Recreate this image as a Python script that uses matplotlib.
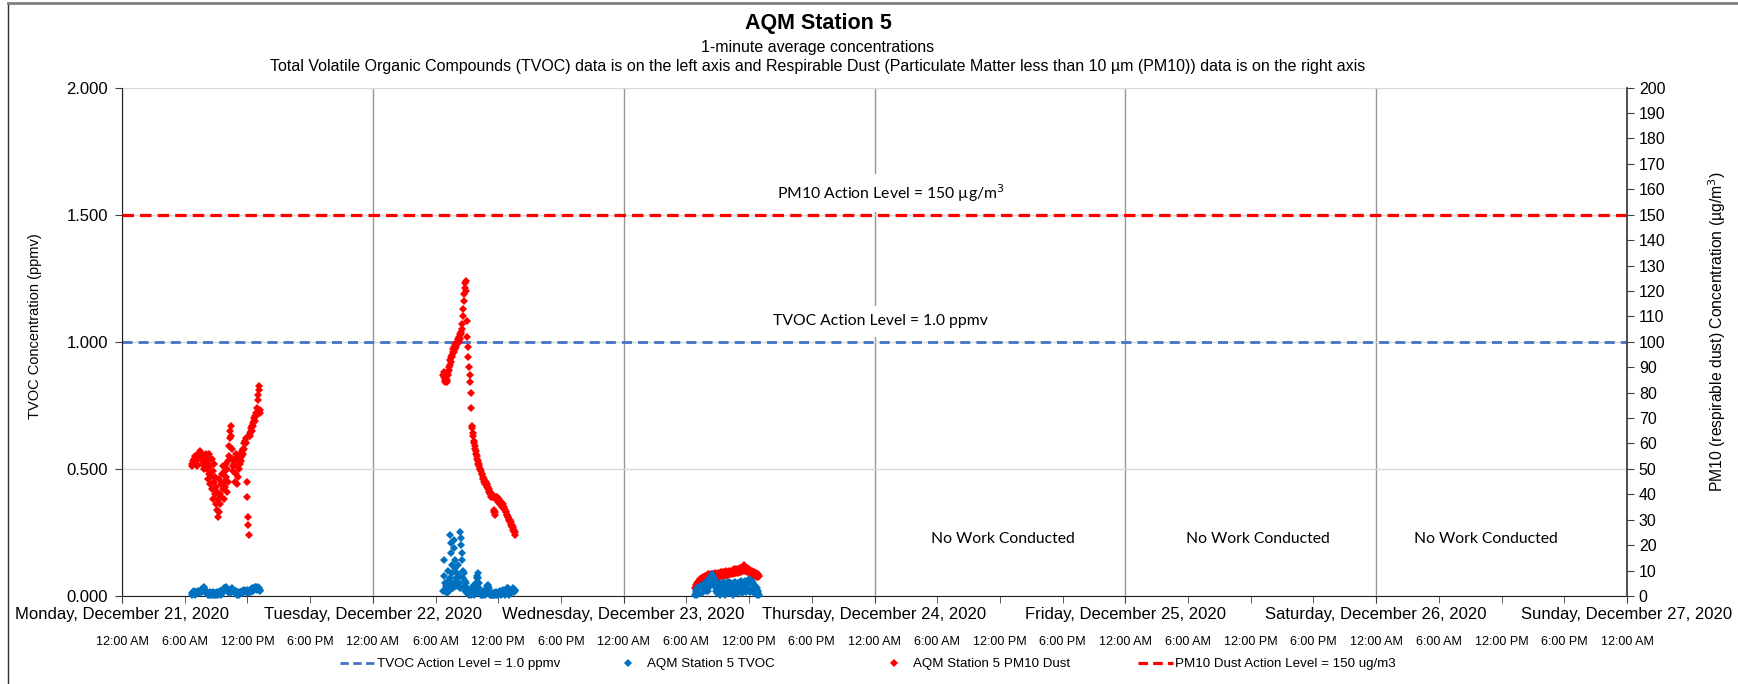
import numpy as np
import matplotlib
matplotlib.use('Agg')
import matplotlib.pyplot as plt
import matplotlib.dates as mdates
from matplotlib.lines import Line2D
from matplotlib.ticker import FuncFormatter
from datetime import datetime, timedelta

plt.rcParams['font.family'] = ['Liberation Sans', 'DejaVu Sans']

# readings sampled every 3 minutes from the logger
step_min = 3

day1_start = datetime(2020, 12, 21, 6, 40)
day1_pm10 = [52, 51, 53, 52, 54, 53, 55, 54, 52, 53, 51, 52, 54,
             56, 55, 57, 56, 55, 54, 55, 56, 54, 52,
             51, 50, 52, 54, 55, 56,
             55, 50, 46, 53, 48, 56, 44, 51, 47, 54,
             42, 49, 38, 45, 52, 40, 47, 36, 43,
             34, 41, 31, 38, 46, 33, 40, 36,
             44, 39, 48, 42, 51, 45, 38, 49, 43,
             47, 52, 41, 50, 45, 53,
             55, 59, 62, 65, 67,
             63, 58, 54, 51, 49,
             52, 45, 54, 48, 56, 44, 51, 55, 47, 53,
             50, 54, 52, 56, 53, 57, 55, 58, 56, 60,
             58, 61, 60, 62,
             45, 39, 31, 28, 24,
             63, 64, 63, 65, 66, 65, 67, 68, 67, 69,
             70, 69, 71, 72, 71,
             74, 77, 79, 81, 82.5,
             73, 72]
day1_tvoc = [0.005, 0.01, 0.015, 0.01, 0.02, 0.015, 0.01, 0.005, 0.01, 0.015, 0.01,
             0.015, 0.02, 0.015, 0.01, 0.015, 0.02, 0.025, 0.02, 0.015, 0.02,
             0.025, 0.03, 0.035, 0.03, 0.025, 0.02, 0.015, 0.01, 0.015, 0.01,
             0.005, 0.01, 0.005, 0.01, 0.015, 0.01, 0.005, 0.01, 0.005, 0.01, 0.015, 0.01, 0.005, 0.01, 0.005,
             0.01, 0.005, 0.01, 0.015, 0.01, 0.005, 0.01, 0.015, 0.02, 0.015, 0.01, 0.005, 0.01, 0.015, 0.02,
             0.025, 0.03, 0.025, 0.03, 0.035, 0.03, 0.025, 0.02, 0.015, 0.02, 0.025, 0.02, 0.015, 0.01, 0.015,
             0.02, 0.025, 0.03, 0.025, 0.02, 0.015, 0.01, 0.015, 0.02, 0.015, 0.01, 0.005, 0.01, 0.015, 0.01,
             0.005, 0.01, 0.015, 0.01, 0.015, 0.02, 0.015, 0.01, 0.015, 0.02, 0.025, 0.02, 0.015, 0.02, 0.025,
             0.02, 0.015, 0.01, 0.015, 0.02, 0.025, 0.02, 0.015, 0.02, 0.025, 0.03, 0.025, 0.02, 0.025, 0.03,
             0.035, 0.03, 0.035, 0.03, 0.025, 0.03, 0.035, 0.03, 0.025, 0.02, 0.025]

day2_start = datetime(2020, 12, 22, 6, 45)
day2_pm10 = [87, 86, 88, 85, 84, 86, 85, 84, 87, 88, 89,
             90, 91, 93, 92, 94, 95, 94, 96, 97, 96, 98, 97, 99, 98, 99,
             100, 99, 101, 100, 102, 101, 103, 104, 103, 105,
             107, 110, 113, 116, 119, 121, 123, 124, 120,
             108, 102, 98, 94, 90, 87, 84,
             80, 74,
             67, 66, 64, 63, 61, 60, 59,
             58, 57, 56, 55, 54, 53, 52, 52, 51, 50,
             50, 49, 48, 48, 47, 46, 46, 45, 45, 44,
             45, 44, 44, 43, 43, 42, 42, 41, 41, 40, 40, 39, 40, 39, 39,
             34, 33, 32, 33,
             39, 38, 39, 38, 38, 37, 38, 37, 37, 36, 37, 36, 36, 35, 36, 35,
             35, 34, 34, 33, 33, 32, 32, 31, 31, 30, 30, 30, 29, 29, 28,
             28, 27, 27, 26, 26, 25, 25, 24]
day2_tvoc = [0.02, 0.08, 0.14, 0.05, 0.02, 0.04, 0.01,
             0.03, 0.06, 0.10, 0.04, 0.02, 0.07,
             0.24, 0.21, 0.17, 0.12, 0.09, 0.05, 0.03,
             0.22, 0.19, 0.14, 0.11, 0.07, 0.04,
             0.09, 0.06, 0.12, 0.05, 0.08, 0.03,
             0.25, 0.23, 0.20, 0.17, 0.14, 0.10,
             0.07, 0.04, 0.09, 0.02, 0.06, 0.03, 0.05, 0.01,
             0.03, 0.01, 0.02, 0.005, 0.015, 0.01, 0.02, 0.005, 0.01, 0.02,
             0.04, 0.02, 0.01, 0.005, 0.01, 0.02, 0.03, 0.05, 0.07, 0.08,
             0.09, 0.07, 0.05, 0.03, 0.015, 0.01,
             0.005, 0.01, 0.005, 0.01, 0.005, 0.01, 0.02, 0.01, 0.005, 0.01, 0.02, 0.03, 0.04, 0.045,
             0.04, 0.03, 0.02, 0.01, 0.005,
             0.005, 0.01, 0.005, 0.01, 0.005, 0.01, 0.005, 0.005, 0.01, 0.015, 0.01, 0.005, 0.01, 0.005, 0.01,
             0.01, 0.015, 0.02, 0.01, 0.005, 0.01, 0.015, 0.02, 0.025, 0.02, 0.01, 0.005, 0.01, 0.015, 0.02,
             0.025, 0.03, 0.03, 0.02, 0.01, 0.005, 0.01, 0.02, 0.025, 0.02,
             0.015, 0.02, 0.03, 0.025, 0.02, 0.015, 0.02, 0.025]

day3_start = datetime(2020, 12, 23, 6, 50)
day3_pm10 = [3, 4.5, 3.5, 5, 4, 5.5, 4.5, 6, 5, 6.5, 5.5,
             6.5, 5.5, 7, 6, 7.5, 6, 7, 6.5, 8, 6.5, 7.5, 6.5, 8, 7, 8.5, 7, 8, 7, 8.5, 7.5,
             8, 7, 8.5, 7.5, 8.5, 7, 8, 7.5, 9, 7.5, 8.5, 7.5, 9, 8, 8.5,
             7.5, 9, 8, 9.5, 8, 9, 8, 9.5, 8.5, 9, 8, 9.5, 8.5, 10, 8.5,
             9, 8, 9.5, 8.5, 10, 8.5, 9.5, 8.5, 10, 9, 9.5, 8.5, 10, 9, 10.5,
             9, 10, 9, 10.5, 9.5, 10, 9, 10.5, 9.5, 11, 9.5, 10.5, 9.5, 11, 10,
             10.5, 11.5, 10, 12, 10.5, 11.5, 10, 11, 9.5, 11,
             10, 10.5, 9.5, 10.5, 9, 10, 9.5, 10, 9, 9.5,
             8.5, 9.5, 8, 9, 8.5, 9, 8, 8.5, 7.5, 8.5, 7.5, 8]
day3_tvoc = [0.005, 0.02, 0.01, 0.03, 0.005, 0.025, 0.015, 0.035, 0.01, 0.03, 0.02,
             0.04, 0.01, 0.035, 0.02, 0.045, 0.015, 0.04, 0.025, 0.05, 0.02,
             0.055, 0.03, 0.05, 0.02, 0.06, 0.035, 0.065, 0.04, 0.07, 0.05,
             0.075, 0.06, 0.085, 0.065, 0.08, 0.05, 0.07, 0.035, 0.055, 0.02,
             0.045, 0.01, 0.04, 0.02, 0.05, 0.015, 0.045, 0.005, 0.04, 0.02,
             0.05, 0.01, 0.045, 0.025, 0.055, 0.015, 0.04, 0.005, 0.035, 0.02,
             0.05, 0.01, 0.045, 0.02, 0.055, 0.01, 0.04, 0.025, 0.05, 0.015,
             0.045, 0.005, 0.04, 0.02, 0.05, 0.01, 0.055, 0.02, 0.045, 0.01,
             0.04, 0.02, 0.05, 0.015, 0.055, 0.025, 0.06, 0.02, 0.05, 0.01,
             0.045, 0.02, 0.055, 0.03, 0.06, 0.02, 0.05, 0.015, 0.055, 0.025,
             0.06, 0.03, 0.065, 0.02, 0.055, 0.015, 0.05, 0.025, 0.06, 0.02,
             0.05, 0.01, 0.045, 0.02, 0.04, 0.01, 0.035, 0.005, 0.03, 0.01, 0.02, 0.005]

tvoc_action = 1.0
pm10_action = 150

day_names = ['Monday', 'Tuesday', 'Wednesday', 'Thursday', 'Friday', 'Saturday', 'Sunday']
no_work_days = [datetime(2020, 12, 24, 12, 18), datetime(2020, 12, 25, 12, 42), datetime(2020, 12, 26, 10, 32)]


def stamps(start, n):
    return [start + timedelta(minutes=step_min * i) for i in range(n)]


days = [(day1_start, day1_pm10, day1_tvoc), (day2_start, day2_pm10, day2_tvoc), (day3_start, day3_pm10, day3_tvoc)]
t_all, pm_all, tv_all = [], [], []
for start, pm, tv in days:
    t_all += stamps(start, len(pm))
    pm_all += pm
    tv_all += tv

W, H = 1738, 684
fig = plt.figure(figsize=(W / 100, H / 100), dpi=100)
rect = [122 / W, 1 - 596 / H, (1627 - 122) / W, (596 - 87.6) / H]
ax = fig.add_axes(rect)
ax2 = ax.twinx()
ax3 = fig.add_axes(rect, sharex=ax, sharey=ax)
ax3.axis('off')
ax3.patch.set_visible(False)

blue = '#0070C0'
red = '#FF0000'

ax.axhline(tvoc_action, color='#4472C4', lw=2, ls=(0, (3.6, 2.2)), zorder=2)
ax2.axhline(pm10_action, color=red, lw=2.3, ls=(0, (3.6, 1.9)), zorder=2)
ax2.plot(t_all, pm_all, ls='none', marker='D', ms=4.5, mew=0, color=red, clip_on=False)
ax3.plot(t_all, tv_all, ls='none', marker='D', ms=4.5, mew=0, color=blue, clip_on=False)

# axes, ticks
ax.set_xlim(datetime(2020, 12, 21), datetime(2020, 12, 27))
ax.set_ylim(0, 2)
ax.set_yticks(np.arange(0, 2.01, 0.5))
ax.yaxis.set_major_formatter(FuncFormatter(lambda v, p: f"{v:.3f}"))
ax2.set_ylim(0, 200)
ax2.set_yticks(np.arange(0, 201, 10))

ax.xaxis.set_major_locator(mdates.DayLocator())
ax.xaxis.set_minor_locator(mdates.HourLocator(byhour=[0, 6, 12, 18]))
ax.xaxis.remove_overlapping_locs = False


def day_label(v, p):
    d = mdates.num2date(v)
    return f"{day_names[d.weekday()]}, {d.strftime('%B')} {d.day}, {d.year}"


def hour_label(v, p):
    d = mdates.num2date(v + 1e-6)
    h = d.hour % 12 or 12
    return f"{h}:00 {'AM' if d.hour < 12 else 'PM'}"


ax.xaxis.set_major_formatter(FuncFormatter(day_label))
ax.xaxis.set_minor_formatter(FuncFormatter(hour_label))
ax.tick_params(axis='x', which='major', length=5, pad=3, labelsize=12, color='#404040')
ax.tick_params(axis='x', which='minor', length=5, pad=24, labelsize=9, color='#404040')
ax.tick_params(axis='y', length=5, pad=5, labelsize=12, color='#404040')
ax2.tick_params(axis='y', length=5, labelsize=11.5, color='#404040')

ax.grid(axis='y', color='#D9D9D9', lw=1)
ax.grid(axis='x', which='major', color='#969696', lw=1)
ax.spines['top'].set_visible(False)
ax.spines['right'].set_visible(False)
for s in ['top', 'left', 'bottom']:
    ax2.spines[s].set_visible(False)
for s in ['left', 'bottom']:
    ax.spines[s].set_color('#202020')
ax2.spines['right'].set_color('#404040')
ax2.spines['right'].set_linewidth(1.3)

# axis titles
fig.text(35 / W, 1 - 326 / H, 'TVOC Concentration (ppmv)', rotation=90, ha='center', va='center', fontsize=10.5)
fig.text(1717 / W, 1 - 332 / H, 'PM10 (respirable dust) Concentration (µg/m$^3$)', rotation=90,
         ha='center', va='center', fontsize=11.3)

# titles
cx = 818 / W
fig.text(cx, 1 - 23 / H, 'AQM Station 5', ha='center', va='center', fontsize=15.5, fontweight='bold')
fig.text(cx, 1 - 47.5 / H, '1-minute average concentrations', ha='center', va='center', fontsize=11.5)
fig.text(cx, 1 - 67 / H, 'Total Volatile Organic Compounds (TVOC) data is on the left axis and Respirable Dust '
         '(Particulate Matter less than 10 µm (PM10)) data is on the right axis', ha='center', va='center',
         fontsize=11.5)

# annotations
box = dict(facecolor='white', edgecolor='none', pad=6)
ax2.text(datetime(2020, 12, 24, 1, 36), 158.5, 'PM10 Action Level = 150 µg/m$^3$', ha='center', va='center',
         fontsize=11.3, family='Lato', bbox=box, zorder=5)
ax.text(datetime(2020, 12, 24, 0, 36), 1.08, 'TVOC Action Level = 1.0 ppmv', ha='center', va='center',
        fontsize=11.3, family='Lato', bbox=box, zorder=5)
for d in no_work_days:
    ax.text(d, 0.226, 'No Work Conducted', ha='center', va='center', fontsize=11.3, family='Lato', zorder=5)

# legend, one entry per slot
entries = [
    (Line2D([], [], color='#4472C4', lw=2, ls=(0, (3, 1.6))), 'TVOC Action Level = 1.0 ppmv', 340),
    (Line2D([], [], color=blue, ls='none', marker='D', ms=4.4, mew=0), 'AQM Station 5 TVOC', 610),
    (Line2D([], [], color=red, ls='none', marker='D', ms=4.4, mew=0), 'AQM Station 5 PM10 Dust', 876),
    (Line2D([], [], color=red, lw=2.3, ls=(0, (3, 1.6))), 'PM10 Dust Action Level = 150 ug/m3', 1138),
]
for h, lab, x0 in entries:
    fig.legend([h], [lab], loc='center left', bbox_to_anchor=(x0 / W, 1 - 664 / H), frameon=False,
               fontsize=9.6, handlelength=2.65, handletextpad=0.15, borderaxespad=0, borderpad=0)

# chart area border
fig.add_artist(Line2D([8 / W, 8 / W], [0, 1 - 3 / H], transform=fig.transFigure, color='#303030', lw=1))
fig.add_artist(Line2D([8 / W, 1], [1 - 3 / H, 1 - 3 / H], transform=fig.transFigure, color='#808080', lw=2))

fig.savefig('out.png', dpi=100)
